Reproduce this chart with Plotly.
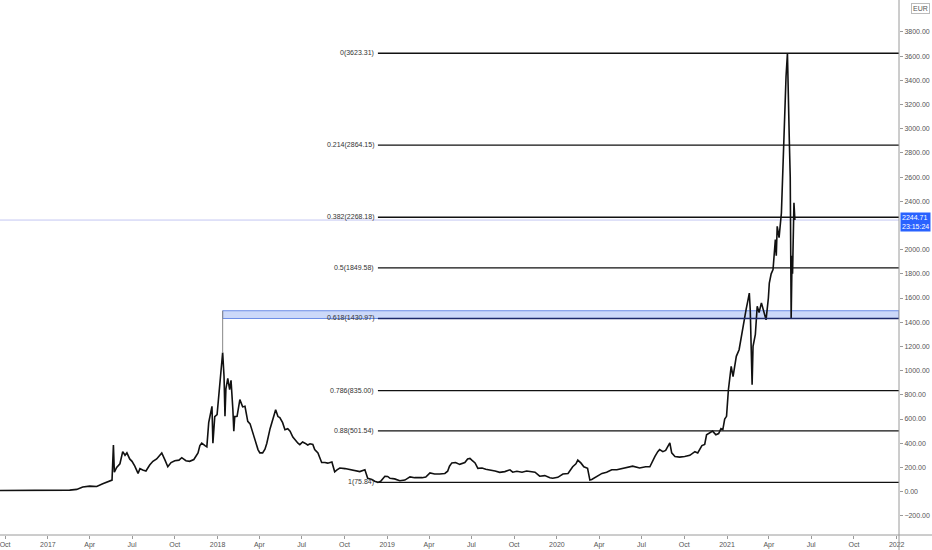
import plotly.graph_objects as go

# ETH / EUR daily closes, incl. the big wicks
dates = [
    "2016-09-20", "2016-10-11", "2016-11-02", "2016-11-23", "2016-12-15", "2017-01-05",
    "2017-01-27", "2017-02-17", "2017-03-04", "2017-03-17", "2017-04-01", "2017-04-16",
    "2017-04-29", "2017-05-10", "2017-05-19", "2017-05-22", "2017-05-24", "2017-05-29",
    "2017-06-05", "2017-06-11", "2017-06-16", "2017-06-20", "2017-06-26", "2017-07-01",
    "2017-07-07", "2017-07-14", "2017-07-18", "2017-07-24", "2017-07-31", "2017-08-08",
    "2017-08-15", "2017-08-23", "2017-08-30", "2017-09-03", "2017-09-10", "2017-09-16",
    "2017-09-23", "2017-10-01", "2017-10-10", "2017-10-16", "2017-10-25", "2017-11-02",
    "2017-11-11", "2017-11-20", "2017-11-24", "2017-11-28", "2017-12-05", "2017-12-09",
    "2017-12-13", "2017-12-18", "2017-12-20", "2017-12-22", "2017-12-26", "2017-12-31",
    "2018-01-04", "2018-01-06", "2018-01-10", "2018-01-12", "2018-01-15", "2018-01-17",
    "2018-01-19", "2018-01-23", "2018-01-27", "2018-01-30", "2018-02-03", "2018-02-05",
    "2018-02-07", "2018-02-12", "2018-02-18", "2018-02-24", "2018-03-01", "2018-03-07",
    "2018-03-12", "2018-03-18", "2018-03-24", "2018-03-29", "2018-04-02", "2018-04-08",
    "2018-04-13", "2018-04-17", "2018-04-24", "2018-04-28", "2018-05-02", "2018-05-06",
    "2018-05-11", "2018-05-15", "2018-05-21", "2018-05-26", "2018-06-01", "2018-06-06",
    "2018-06-12", "2018-06-16", "2018-06-23", "2018-06-27", "2018-07-03", "2018-07-08",
    "2018-07-14", "2018-07-19", "2018-07-25", "2018-07-29", "2018-08-05", "2018-08-09",
    "2018-08-13", "2018-08-20", "2018-08-26", "2018-09-04", "2018-09-10", "2018-09-15",
    "2018-09-21", "2018-10-02", "2018-10-13", "2018-10-23", "2018-11-03", "2018-11-14",
    "2018-11-20", "2018-11-29", "2018-12-05", "2018-12-12", "2018-12-18", "2018-12-27",
    "2019-01-02", "2019-01-07", "2019-01-17", "2019-01-28", "2019-02-08", "2019-02-19",
    "2019-03-01", "2019-03-17", "2019-03-25", "2019-04-03", "2019-04-13", "2019-04-24",
    "2019-05-05", "2019-05-11", "2019-05-15", "2019-05-20", "2019-05-28", "2019-06-06",
    "2019-06-17", "2019-06-23", "2019-06-28", "2019-07-02", "2019-07-09", "2019-07-15",
    "2019-07-24", "2019-08-01", "2019-08-10", "2019-08-21", "2019-08-31", "2019-09-11",
    "2019-09-22", "2019-09-28", "2019-10-07", "2019-10-18", "2019-10-28", "2019-11-04",
    "2019-11-15", "2019-11-25", "2019-12-06", "2019-12-17", "2019-12-23", "2020-01-03",
    "2020-01-14", "2020-01-25", "2020-02-04", "2020-02-11", "2020-02-15", "2020-02-22",
    "2020-02-28", "2020-03-07", "2020-03-12", "2020-03-16", "2020-03-27", "2020-04-07",
    "2020-04-17", "2020-04-28", "2020-05-09", "2020-05-20", "2020-05-30", "2020-06-12",
    "2020-06-27", "2020-07-10", "2020-07-19", "2020-07-25", "2020-07-30", "2020-08-05",
    "2020-08-09", "2020-08-16", "2020-08-22", "2020-08-31", "2020-09-04", "2020-09-11",
    "2020-09-21", "2020-10-02", "2020-10-13", "2020-10-24", "2020-10-30", "2020-11-08",
    "2020-11-14", "2020-11-18", "2020-11-25", "2020-12-01", "2020-12-08", "2020-12-14",
    "2020-12-19", "2020-12-23", "2020-12-27", "2020-12-31", "2021-01-04", "2021-01-08",
    "2021-01-10", "2021-01-14", "2021-01-21", "2021-01-27", "2021-02-03", "2021-02-07",
    "2021-02-11", "2021-02-15", "2021-02-18", "2021-02-20", "2021-02-22", "2021-02-24",
    "2021-02-26", "2021-03-03", "2021-03-07", "2021-03-11", "2021-03-16", "2021-03-20",
    "2021-03-24", "2021-03-26", "2021-03-31", "2021-04-02", "2021-04-06", "2021-04-10",
    "2021-04-15", "2021-04-17", "2021-04-19", "2021-04-23", "2021-04-28", "2021-05-02",
    "2021-05-04", "2021-05-06", "2021-05-08", "2021-05-11", "2021-05-13", "2021-05-15",
    "2021-05-17", "2021-05-19", "2021-05-21", "2021-05-22", "2021-05-25", "2021-05-27",
]
closes = [
    9, 10, 9, 8, 7, 9,
    10, 12, 18, 38, 45, 42,
    65, 80, 95, 385, 160, 200,
    230, 330, 300, 320, 270, 250,
    210, 150, 190, 178, 170, 220,
    250, 270, 300, 320, 260, 205,
    240, 255, 260, 280, 255, 250,
    265, 320, 380, 400, 380, 370,
    570, 650, 705, 400, 620, 636,
    800, 925, 1050, 1150, 950, 622,
    850, 935, 842, 920, 677, 500,
    620, 622, 760, 700, 705, 581,
    560, 485, 420, 347, 320, 320,
    350, 400, 520, 570, 640, 677,
    620, 611, 570, 512, 520, 500,
    450, 430, 400, 388, 410, 400,
    385, 395, 390, 347, 320, 280,
    240, 240, 235, 245, 164, 180,
    195, 190, 180, 176, 165, 180,
    110, 100, 85, 76, 85, 127,
    125, 110, 105, 90, 95, 121,
    115, 115, 120, 154, 145, 145,
    150, 168, 210, 237, 240, 225,
    240, 270, 274, 260, 237, 192,
    195, 185, 180, 170, 159, 165,
    180, 160, 168, 160, 170, 168,
    160, 127, 132, 115, 110, 118,
    145, 150, 205, 230, 260, 235,
    205, 192, 95, 100, 127, 150,
    159, 180, 180, 190, 195, 210,
    195, 205, 205, 260, 291, 330,
    347, 330, 340, 402, 320, 290,
    285, 290, 300, 330, 320, 380,
    390, 470, 485, 500, 470, 480,
    520, 512, 600, 622, 842, 990,
    1035, 950, 1118, 1173, 1338, 1400,
    1504, 1580, 1641, 1500, 1229, 884,
    1200, 1300, 1532, 1480, 1560, 1500,
    1449, 1420, 1600, 1724, 1800, 1835,
    2083, 1950, 2193, 2100, 2303, 2771,
    2900, 3200, 3432, 3623, 3360, 2908,
    2600, 1431, 1950, 1800, 2388, 2244.71,
]

# Fibonacci retracement levels (ratio, price) as labelled
fib_ratios = ["0", "0.214", "0.382", "0.5", "0.618", "0.786", "0.88", "1"]
fib_prices = [3623.31, 2864.15, 2268.18, 1849.58, 1430.97, 835.00, 501.54, 75.84]
fib_start = "2018-12-12"

# supply zone box + marker line from the Jan 2018 top
zone_start = "2018-01-12"
zone_low, zone_high = 1430.97, 1495
top_2018 = 1150

last_price = 2244.71
last_time = "23:15:24"

x_tickvals = ["2016-10-01", "2017-01-01", "2017-04-01", "2017-07-01", "2017-10-01",
              "2018-01-01", "2018-04-01", "2018-07-01", "2018-10-01", "2019-01-01",
              "2019-04-01", "2019-07-01", "2019-10-01", "2020-01-01", "2020-04-01",
              "2020-07-01", "2020-10-01", "2021-01-01", "2021-04-01", "2021-07-01",
              "2021-10-01", "2022-01-01"]
x_ticktext = ["Oct", "2017", "Apr", "Jul", "Oct", "2018", "Apr", "Jul", "Oct", "2019",
              "Apr", "Jul", "Oct", "2020", "Apr", "Jul", "Oct", "2021", "Apr", "Jul",
              "Oct", "2022"]
# 2200 sits under the price tag, 4000 under the currency tag
y_tickvals = [-200, 0, 200, 400, 600, 800, 1000, 1200, 1400, 1600, 1800, 2000,
              2400, 2600, 2800, 3000, 3200, 3400, 3600, 3800]

x_range = ["2016-09-20", "2022-01-06"]
y_range = [-359, 4064]
FONT = "Liberation Sans"

fig = go.Figure()
fig.add_trace(go.Scatter(x=dates, y=closes, mode="lines",
                         line=dict(color="#111111", width=1.6),
                         hoverinfo="skip", showlegend=False))

# last price line across the whole chart
fig.add_hline(y=last_price, line=dict(color="#c3c6f2", width=1), layer="below")

# zone box
fig.add_shape(type="rect", x0=zone_start, x1=x_range[1], y0=zone_low, y1=zone_high,
              fillcolor="rgba(120,155,240,0.38)", line=dict(color="#6d8ee6", width=1),
              layer="below")
fig.add_shape(type="line", x0=zone_start, x1=zone_start, y0=top_2018, y1=zone_high,
              line=dict(color="#888888", width=1))

# fib levels
for r, p in zip(fib_ratios, fib_prices):
    col = "#1d2a6b" if r == "0.618" else "#111111"
    fig.add_shape(type="line", x0=fib_start, x1=x_range[1], y0=p, y1=p,
                  line=dict(color=col, width=1.4))
    fig.add_annotation(x=fib_start, y=p, text=f"{r}({p:.2f})", showarrow=False,
                       xanchor="right", yanchor="middle", xshift=-2,
                       font=dict(family=FONT, size=7, color="#333333"))

# price scale tag
fig.add_annotation(x=1, xref="paper", y=2232, yref="y",
                   text=f"{last_price:.2f}<br>{last_time}", showarrow=False,
                   xanchor="left", yanchor="middle", align="left", xshift=1,
                   bgcolor="#2962ff", borderpad=1,
                   font=dict(family=FONT, size=7, color="white"))
fig.add_annotation(x=1, xref="paper", y=1, yref="paper", text="EUR", showarrow=False,
                   xanchor="left", yanchor="top", xshift=12, yshift=-3,
                   bordercolor="#bbbbbb", borderwidth=1, borderpad=1, bgcolor="white",
                   font=dict(family=FONT, size=7, color="#555555"))

# axis lines running past the plot corner
fig.add_shape(type="line", xref="paper", yref="paper", x0=0, x1=1.04, y0=0, y1=0,
              line=dict(color="#9a9a9a", width=1))
fig.add_shape(type="line", xref="paper", yref="paper", x0=1, x1=1, y0=-0.03, y1=1,
              line=dict(color="#9a9a9a", width=1))

fig.update_layout(
    width=932, height=550,
    margin=dict(l=0, r=33, t=0, b=15),
    paper_bgcolor="white", plot_bgcolor="white",
    font=dict(family=FONT, size=7, color="#555555"),
    xaxis=dict(range=x_range, tickvals=x_tickvals, ticktext=x_ticktext,
               showgrid=False, zeroline=False, showline=False,
               ticks="outside", ticklen=3, tickcolor="#9a9a9a",
               ticklabeloverflow="allow",
               tickfont=dict(family=FONT, size=7, color="#555555")),
    yaxis=dict(range=y_range, side="right", tickvals=y_tickvals, tickformat=".2f",
               showgrid=False, zeroline=False, showline=False,
               ticks="outside", ticklen=3, tickcolor="#9a9a9a",
               tickfont=dict(family=FONT, size=7, color="#555555")),
)

fig.write_html("out.html", config={"displayModeBar": False},
               post_script="document.body.style.margin='0';")
